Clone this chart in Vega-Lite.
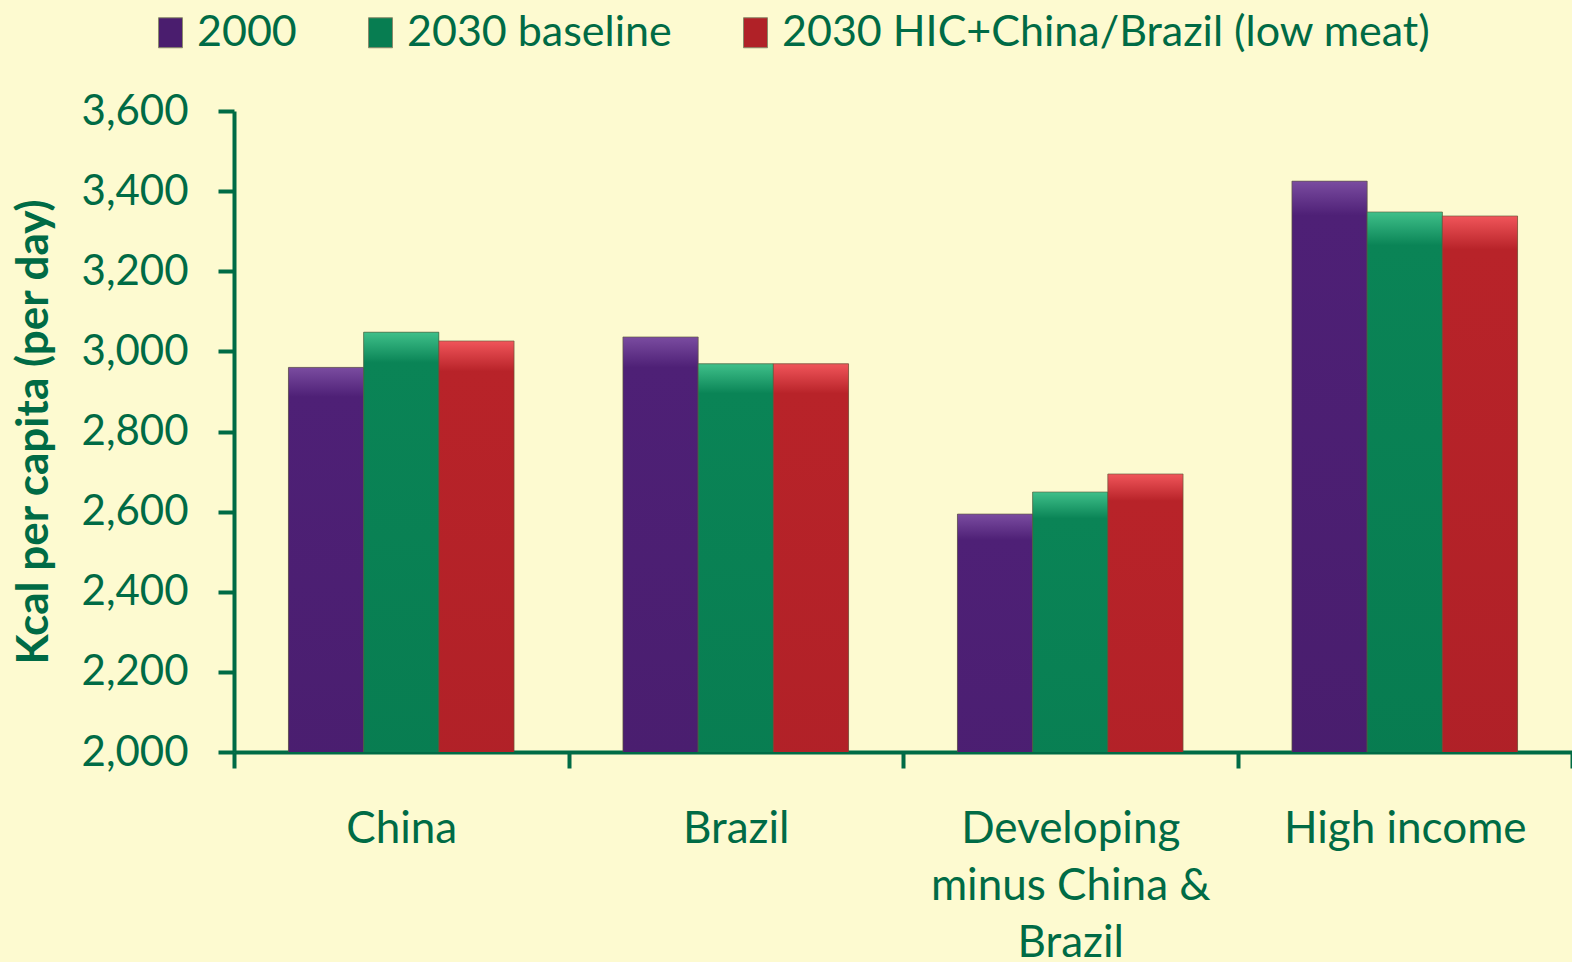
{
  "$schema": "https://vega.github.io/schema/vega-lite/v6.json",
  "autosize": {"type": "none"},
  "width": 1338,
  "height": 641,
  "padding": {"left": 234, "top": 111, "right": 0, "bottom": 210},
  "background": "#FDFAD0",
  "config": {
    "view": {"stroke": null},
    "font": "Lato",
    "axis": {
      "domainColor": "#006B45",
      "domainWidth": 4,
      "tickColor": "#006B45",
      "tickWidth": 4,
      "tickSize": 16,
      "labelColor": "#006B45",
      "labelFont": "Lato",
      "titleFont": "Lato",
      "titleColor": "#006B45",
      "grid": false
    }
  },
  "data": {
    "values": [
      {"region": "China", "series": "2000", "kcal": 2960},
      {"region": "China", "series": "2030 baseline", "kcal": 3048},
      {"region": "China", "series": "2030 HIC+China/Brazil (low meat)", "kcal": 3026},
      {"region": "Brazil", "series": "2000", "kcal": 3036},
      {"region": "Brazil", "series": "2030 baseline", "kcal": 2969},
      {"region": "Brazil", "series": "2030 HIC+China/Brazil (low meat)", "kcal": 2969},
      {"region": "Developing minus China & Brazil", "series": "2000", "kcal": 2594},
      {"region": "Developing minus China & Brazil", "series": "2030 baseline", "kcal": 2649},
      {"region": "Developing minus China & Brazil", "series": "2030 HIC+China/Brazil (low meat)", "kcal": 2694},
      {"region": "High income", "series": "2000", "kcal": 3425},
      {"region": "High income", "series": "2030 baseline", "kcal": 3348},
      {"region": "High income", "series": "2030 HIC+China/Brazil (low meat)", "kcal": 3338}
    ]
  },
  "encoding": {
    "x": {
      "field": "region",
      "type": "nominal",
      "sort": ["China", "Brazil", "Developing minus China & Brazil", "High income"],
      "scale": {"paddingInner": 0, "paddingOuter": 0},
      "axis": {
        "title": null,
        "labelAngle": 0,
        "labelFontSize": 44,
        "labelPadding": 39,
        "labelLimit": 500,
        "labelLineHeight": 57,
        "tickBand": "extent",
        "labelExpr": "datum.value == 'Developing minus China & Brazil' ? ['Developing', 'minus China &', 'Brazil'] : datum.label"
      }
    },
    "xOffset": {
      "field": "series",
      "type": "nominal",
      "sort": ["2000", "2030 baseline", "2030 HIC+China/Brazil (low meat)"],
      "scale": {"paddingInner": 0, "paddingOuter": 0.724}
    },
    "y": {
      "field": "kcal",
      "type": "quantitative",
      "scale": {"domain": [2000, 3600], "nice": false, "zero": false},
      "axis": {
        "title": "Kcal per capita (per day)",
        "titleFontSize": 44,
        "titleFontWeight": "bold",
        "titleX": -178,
        "titleBaseline": "bottom",
        "values": [2000, 2200, 2400, 2600, 2800, 3000, 3200, 3400, 3600],
        "format": ",.0f",
        "labelFontSize": 42,
        "labelPadding": 30
      }
    }
  },
  "layer": [
    {
      "mark": {"type": "bar", "clip": true},
      "encoding": {
        "color": {
          "field": "series",
          "type": "nominal",
          "sort": ["2000", "2030 baseline", "2030 HIC+China/Brazil (low meat)"],
          "scale": {"range": ["#4A1D6E", "#077D51", "#B02127"]},
          "legend": {
            "title": null,
            "orient": "none",
            "direction": "horizontal",
            "legendX": -85,
            "legendY": -100,
            "symbolType": "M-0.8,-1H0.8V1H-0.8Z",
            "symbolSize": 900,
            "symbolStrokeWidth": 1,
            "symbolStrokeColor": "#8a8a6a",
            "labelFontSize": 43,
            "labelColor": "#006B45",
            "labelOffset": 5,
            "columnPadding": 62,
            "labelLimit": 800
          }
        }
      }
    },
    {
      "transform": [{"filter": "datum.series == '2000'"}],
      "mark": {
        "type": "bar", "clip": true, "stroke": "#5E5A3A", "strokeWidth": 1, "strokeOpacity": 0.6,
        "fill": {"gradient": "linear", "x1": 0, "y1": 0, "x2": 0, "y2": 1,
          "stops": [{"offset": 0, "color": "#7A4CA0"}, {"offset": 0.025, "color": "#4E2076"}, {"offset": 0.5, "color": "#481D6C"}, {"offset": 1, "color": "#381652"}]}
      }
    },
    {
      "transform": [{"filter": "datum.series == '2030 baseline'"}],
      "mark": {
        "type": "bar", "clip": true, "stroke": "#5E5A3A", "strokeWidth": 1, "strokeOpacity": 0.6,
        "fill": {"gradient": "linear", "x1": 0, "y1": 0, "x2": 0, "y2": 1,
          "stops": [{"offset": 0, "color": "#3FC08A"}, {"offset": 0.025, "color": "#0A8456"}, {"offset": 0.5, "color": "#077A4F"}, {"offset": 1, "color": "#06603F"}]}
      }
    },
    {
      "transform": [{"filter": "datum.series == '2030 HIC+China/Brazil (low meat)'"}],
      "mark": {
        "type": "bar", "clip": true, "stroke": "#5E5A3A", "strokeWidth": 1, "strokeOpacity": 0.6,
        "fill": {"gradient": "linear", "x1": 0, "y1": 0, "x2": 0, "y2": 1,
          "stops": [{"offset": 0, "color": "#F0555A"}, {"offset": 0.025, "color": "#B82329"}, {"offset": 0.5, "color": "#AE2027"}, {"offset": 1, "color": "#8E1A1F"}]}
      }
    }
  ]
}
